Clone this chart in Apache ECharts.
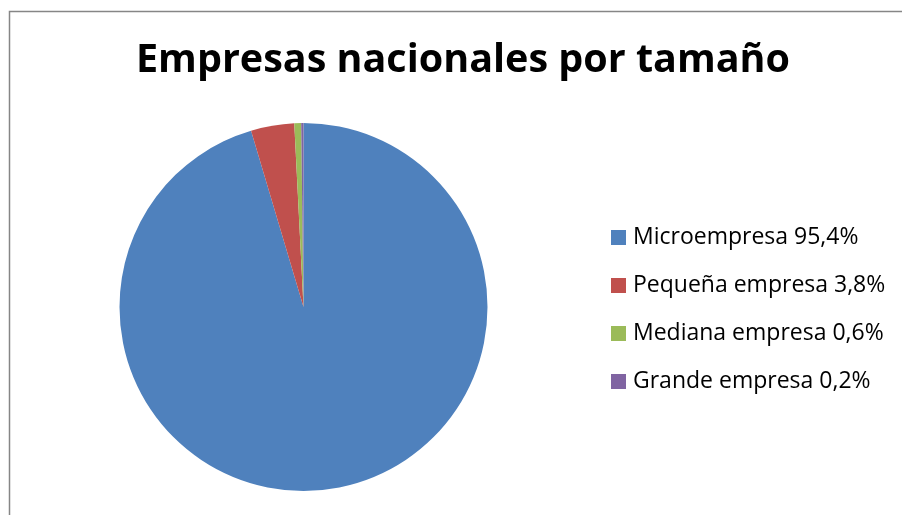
<!DOCTYPE html>
<html>
<head>
<meta charset="utf-8">
<script src="https://cdn.jsdelivr.net/npm/echarts@6/dist/echarts.min.js"></script>
<style>
  html, body { margin: 0; padding: 0; background: #fff; }
  #chart { width: 902px; height: 515px; }
</style>
</head>
<body>
<div id="chart"></div>
<script>
// Company size categories and their share of national companies (%)
const categories = ['Microempresa', 'Pequeña empresa', 'Mediana empresa', 'Grande empresa'];
const shares = [95.4, 3.8, 0.6, 0.2];
const shareLabels = ['95,4%', '3,8%', '0,6%', '0,2%'];
const colors = ['#4F81BD', '#C0504D', '#9BBB59', '#8064A2'];

const chart = echarts.init(document.getElementById('chart'));

const data = categories.map((name, i) => ({
  name: name,
  value: shares[i],
  itemStyle: { color: colors[i] }
}));

chart.setOption({
  animation: false,
  backgroundColor: '#ffffff',
  title: {
    text: 'Empresas nacionales por tamaño',
    left: 463,
    top: 41,
    padding: 0,
    textAlign: 'center',
    textStyle: {
      fontFamily: 'Open Sans',
      fontWeight: 'bold',
      fontSize: 39.5,
      color: '#000000'
    }
  },
  legend: {
    orient: 'vertical',
    left: 611,
    top: 226,
    padding: 0,
    itemWidth: 15,
    itemHeight: 15,
    itemGap: 25,
    icon: 'rect',
    data: categories,
    formatter: function (name) {
      const i = categories.indexOf(name);
      return name + ' ' + shareLabels[i];
    },
    textStyle: {
      fontFamily: 'Open Sans',
      fontSize: 23,
      color: '#000000',
      padding: [0, 0, 0, 2]
    }
  },
  graphic: [{
    type: 'rect',
    shape: { x: 9.5, y: 11.5, width: 1000, height: 600 },
    style: { fill: 'none', stroke: '#868686', lineWidth: 1.5 },
    silent: true
  }],
  series: [{
    type: 'pie',
    center: [303.5, 307],
    radius: 184,
    startAngle: 90,
    clockwise: true,
    label: { show: false },
    labelLine: { show: false },
    emphasis: { disabled: true },
    itemStyle: { borderWidth: 0 },
    data: data
  }]
});
</script>
</body>
</html>
